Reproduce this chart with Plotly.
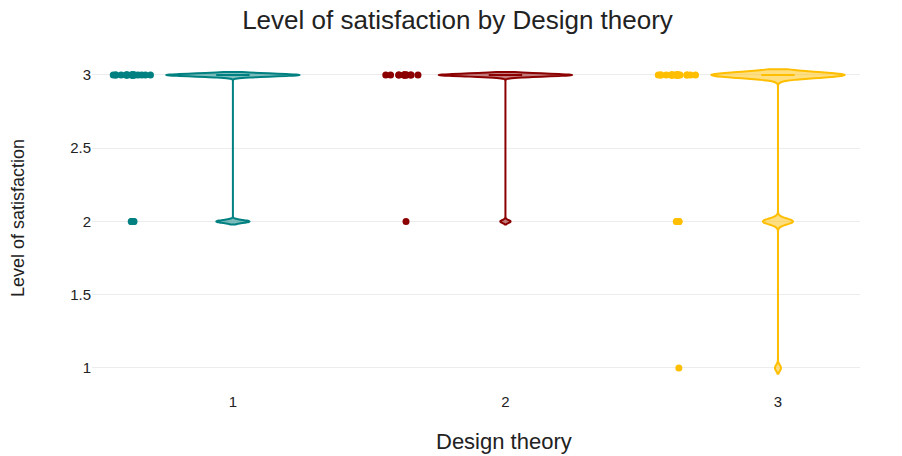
import plotly.graph_objects as go

# Satisfaction ratings (1-3) collected for each design theory
theories = ["1", "2", "3"]
ratings_theory1 = [2, 2, 2, 2, 2,
                   3, 3, 3, 3, 3, 3, 3, 3, 3, 3,
                   3, 3, 3, 3, 3, 3, 3, 3, 3, 3]
ratings_theory2 = [2,
                   3, 3, 3, 3, 3, 3, 3, 3, 3, 3, 3, 3, 3]
ratings_theory3 = [1,
                   2, 2, 2, 2, 2,
                   3, 3, 3, 3, 3, 3, 3, 3, 3, 3, 3,
                   3, 3, 3, 3, 3, 3, 3, 3, 3, 3, 3]
colors = ["#008080", "#8B0000", "#FFBF00"]

y_ticks = [1, 1.5, 2, 2.5, 3]

fig = go.Figure()
for name, vals, col in zip(theories,
                           [ratings_theory1, ratings_theory2, ratings_theory3],
                           colors):
    fig.add_trace(go.Violin(
        x=[name] * len(vals),
        y=vals,
        name=name,
        line=dict(color=col, width=2),
        marker=dict(color=col, size=7),
        points="all",
        pointpos=-1.5,
        jitter=0.3,
        box_visible=True,
        width=0.49,
        showlegend=False,
    ))

font_family = "Liberation Sans, Arial, sans-serif"

fig.update_layout(
    width=902,
    height=456,
    margin=dict(l=92, r=42, t=50, b=70),
    paper_bgcolor="white",
    plot_bgcolor="white",
    font=dict(family=font_family, color="#444"),
    title=dict(
        text="Level of satisfaction by Design theory",
        x=457.5 / 902, xanchor="center",
        y=1 - 20 / 456, yanchor="middle",
        font=dict(size=26, color="#222", family=font_family),
    ),
    xaxis=dict(
        type="category",
        range=[-0.517, 2.301],
        showgrid=False,
        zeroline=False,
        showline=False,
        ticklabelstandoff=5,
        tickfont=dict(size=15, color="#222"),
    ),
    yaxis=dict(
        range=[0.877, 3.1706],
        tickvals=y_ticks,
        ticktext=[str(v) for v in y_ticks],
        showgrid=True,
        gridcolor="#ececec",
        gridwidth=1,
        zeroline=False,
        showline=False,
        tickfont=dict(size=15, color="#222"),
        title=dict(text="Level of satisfaction", font=dict(size=18, color="#222"),
                   standoff=40),
    ),
    annotations=[dict(
        text="Design theory",
        xref="paper", yref="paper",
        x=(503.5 - 92) / (902 - 92 - 42), xanchor="center",
        y=-(441 - 386) / (456 - 50 - 70), yanchor="middle",
        showarrow=False,
        font=dict(size=22, color="#222", family=font_family),
    )],
)

fig.write_html("out.html")
